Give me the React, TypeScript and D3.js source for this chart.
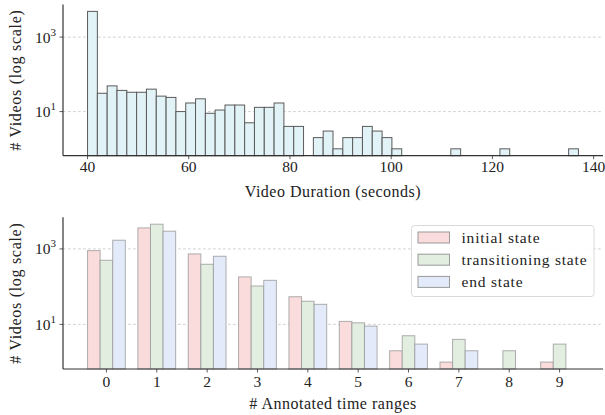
import * as d3 from 'd3';

// top histogram: video durations, 50 equal bins from 40 s to 137 s
const durationBinStart = 40;
const durationBinEnd = 137;
const durationCounts = [
  4900, 31, 49, 37, 33, 33, 40, 26, 24, 10,
  17, 22, 9, 11, 15, 15, 5, 13, 13, 17,
  4, 4, 0, 2, 3, 1, 2, 2, 4, 3,
  2, 1, 0, 0, 0, 0, 0, 1, 0, 0,
  0, 0, 1, 0, 0, 0, 0, 0, 0, 1,
];
const durationTicks = [40, 60, 80, 100, 120, 140];

// bottom grouped bars: number of annotated time ranges
const rangeCategories = [0, 1, 2, 3, 4, 5, 6, 7, 8, 9];
const initialState = [900, 3600, 736, 181, 54, 12, 2, 1, 0, 1];
const transitioningState = [500, 4520, 392, 104, 41, 11, 5, 4, 2, 3];
const endState = [1700, 2950, 638, 147, 34, 9, 3, 2, 0, 0];
const seriesNames = ['initial state', 'transitioning state', 'end state'];
const seriesColors = ['#fbdcdc', '#e1eee0', '#e3ebfb'];

const logTicks = [10, 1000];

const FONT = '"Liberation Serif", "DejaVu Serif", serif';
const SPINE = '#333';

// matplotlib-like log limits: 5% margin in log space
function logDomain(values: number[]): [number, number] {
  const pos = values.filter(v => v > 0);
  const lo = Math.log10(d3.min(pos)!);
  const hi = Math.log10(d3.max(pos)!);
  const m = (hi - lo) * 0.05;
  return [Math.pow(10, lo - m), Math.pow(10, hi + m)];
}

function LogYAxis({ y, x0, x1, label, cy }: any) {
  return (
    <g>
      {logTicks.map(t => (
        <line key={'g' + t} x1={x0} x2={x1} y1={y(t)} y2={y(t)}
          stroke="#c8c8c8" strokeWidth={0.8} strokeDasharray="2.8,2.2" />
      ))}
      {logTicks.map(t => (
        <g key={'t' + t}>
          <line x1={x0 - 3.5} x2={x0} y1={y(t)} y2={y(t)} stroke={SPINE} strokeWidth={0.8} />
          <text x={x0 - 7} y={y(t) + 5.5} textAnchor="end" fontFamily={FONT} fontSize={15.5} fill="#222">
            10<tspan dy={-7} fontSize={11}>{Math.round(Math.log10(t))}</tspan>
          </text>
        </g>
      ))}
      <text transform={`translate(21,${cy}) rotate(-90)`} textAnchor="middle"
        fontFamily={FONT} fontSize={16} letterSpacing={0.7} fill="#222">{label}</text>
    </g>
  );
}

export default function App() {
  const left = 63, right = 603;

  // ---- top chart
  const topY0 = 155.7, topY1 = 4.5;
  const xTop = d3.scaleLinear()
    .domain([durationBinStart - (durationBinEnd - durationBinStart) * 0.05,
             durationBinEnd + (durationBinEnd - durationBinStart) * 0.05])
    .range([left, right]);
  const yTop = d3.scaleLog().domain(logDomain(durationCounts)).range([topY0, topY1]);
  const binW = (durationBinEnd - durationBinStart) / durationCounts.length;

  // ---- bottom chart
  const botY0 = 369, botY1 = 217.3;
  const barW = 0.25;
  const lo = rangeCategories[0] - 1.5 * barW;
  const hi = rangeCategories[rangeCategories.length - 1] + 1.5 * barW;
  const xBot = d3.scaleLinear().domain([lo - (hi - lo) * 0.05, hi + (hi - lo) * 0.05]).range([left, right]);
  const series = [initialState, transitioningState, endState];
  const yBot = d3.scaleLog().domain(logDomain(series.flat())).range([botY0, botY1]);

  const legX = 411.5, legY = 225.5;

  return (
    <svg width={605} height={415} style={{ position: 'absolute', left: 0, top: 0, background: '#fff' }}>
      {/* ===== top histogram ===== */}
      <LogYAxis y={yTop} x0={left} x1={right} label="# Videos (log scale)" cy={(topY0 + topY1) / 2} />
      {durationCounts.map((c, i) => c > 0 && (
        <rect key={i}
          x={xTop(durationBinStart + i * binW)}
          y={yTop(c)}
          width={xTop(durationBinStart + (i + 1) * binW) - xTop(durationBinStart + i * binW)}
          height={topY0 - yTop(c)}
          fill="#e2f3f8" stroke="#5a5a5a" strokeWidth={1} />
      ))}
      <line x1={left} x2={left} y1={topY1} y2={topY0} stroke={SPINE} strokeWidth={1.2} />
      <line x1={left} x2={right} y1={topY0} y2={topY0} stroke={SPINE} strokeWidth={1.2} />
      {durationTicks.map(t => (
        <g key={t}>
          <line x1={xTop(t)} x2={xTop(t)} y1={topY0} y2={topY0 + 3.5} stroke={SPINE} strokeWidth={0.8} />
          <text x={xTop(t)} y={topY0 + 16} textAnchor="middle" fontFamily={FONT} fontSize={15.5} fill="#222">{t}</text>
        </g>
      ))}
      <text x={(left + right) / 2} y={197} textAnchor="middle" fontFamily={FONT} fontSize={16}
        letterSpacing={0.5} fill="#222">
        Video Duration (seconds)
      </text>

      {/* ===== bottom grouped bars ===== */}
      <LogYAxis y={yBot} x0={left} x1={right} label="# Videos (log scale)" cy={(botY0 + botY1) / 2} />
      {series.map((vals, s) => vals.map((v, i) => v > 0 && (
        <rect key={s + '-' + i}
          x={xBot(rangeCategories[i] + (s - 1) * barW - barW / 2)}
          y={yBot(v)}
          width={xBot(barW) - xBot(0)}
          height={botY0 - yBot(v)}
          fill={seriesColors[s]} stroke="#9a9a9a" strokeOpacity={0.8} strokeWidth={1} />
      )))}
      <line x1={left} x2={left} y1={botY1} y2={botY0} stroke={SPINE} strokeWidth={1.2} />
      <line x1={left} x2={right} y1={botY0} y2={botY0} stroke={SPINE} strokeWidth={1.2} />
      {rangeCategories.map(t => (
        <g key={t}>
          <line x1={xBot(t)} x2={xBot(t)} y1={botY0} y2={botY0 + 3.5} stroke={SPINE} strokeWidth={0.8} />
          <text x={xBot(t)} y={botY0 + 18} textAnchor="middle" fontFamily={FONT} fontSize={15.5} fill="#222">{t}</text>
        </g>
      ))}
      <text x={(left + right) / 2} y={409} textAnchor="middle" fontFamily={FONT} fontSize={16}
        letterSpacing={0.5} fill="#222">
        # Annotated time ranges
      </text>

      {/* legend */}
      <rect x={legX} y={legY} width={182.5} height={71} rx={3} fill="#fff" fillOpacity={0.9}
        stroke="#d5d5d5" strokeWidth={0.9} />
      {seriesNames.map((n, i) => (
        <g key={n}>
          <rect x={legX + 6.5} y={legY + 6.5 + i * 22.2} width={31.5} height={11}
            fill={seriesColors[i]} stroke="#9a9a9a" strokeWidth={1} />
          <text x={legX + 50} y={legY + 17 + i * 22.2} fontFamily={FONT} fontSize={15.5}
            letterSpacing={0.8} fill="#222">{n}</text>
        </g>
      ))}
    </svg>
  );
}
